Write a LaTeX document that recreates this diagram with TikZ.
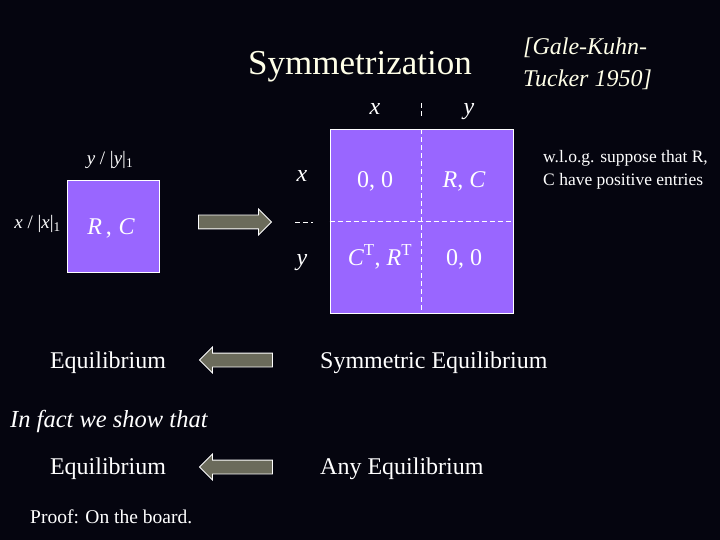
\documentclass[tikz,border=0pt]{standalone}
\usepackage{fontspec}
\setmainfont{Liberation Serif}
\usetikzlibrary{shapes.arrows,positioning}

\definecolor{slidebg}{HTML}{05050F}
\definecolor{gamefill}{HTML}{9966FF}
\definecolor{arrowfill}{HTML}{6B6B5B}
\definecolor{titlecol}{HTML}{FFFFE8}

\newcommand{\bigtxt}{\fontsize{24}{30}\selectfont}
\newcommand{\midtxt}{\fontsize{19}{22}\selectfont}

\begin{document}
\begin{tikzpicture}[
    x=1pt, y=-1pt,
    txt/.style={text=white, inner sep=0pt, font=\bigtxt},
    sidetxt/.style={text=white, inner sep=0pt, font=\midtxt},
    gamebox/.style={rectangle, draw=white, fill=gamefill, line width=0.8pt, inner sep=0pt},
    blockarrow/.style={single arrow, draw=white, fill=arrowfill, line width=0.8pt,
        inner sep=6.5pt, minimum height=73pt, single arrow head extend=6pt},
    divider/.style={draw=white, line width=0.8pt, dash pattern=on 5pt off 3pt}
]
\fill[slidebg] (0,0) rectangle (720,540);
\useasboundingbox (0,0) rectangle (720,540);

% title and citation
\node[txt, anchor=base, text=titlecol, font=\fontsize{35}{40}\selectfont] (title) at (360,75) {Symmetrization};
\node[txt, anchor=base west, text=titlecol, align=left, font=\fontsize{24}{32}\selectfont\itshape] (cite) at (523,87)
    {[Gale-Kuhn-\\Tucker 1950]};

% small game
\node[gamebox, minimum size=92pt] (small) at (113,226.5) {};
\node[txt, anchor=base] (rc) at (111,234) {\itshape R\,\upshape,\;\itshape C};
\node[sidetxt, anchor=base] (ynorm) at (110,165) {\itshape y\upshape~/~|\itshape y\upshape|\textsubscript{1}};
\node[sidetxt, anchor=base east] (xnorm) at (61,229) {\itshape x\upshape~/~|\itshape x\upshape|\textsubscript{1}};

\node[blockarrow] (toright) at (231.5,222) {};

% symmetric game
\node[gamebox, minimum width=183pt, minimum height=184pt] (game) at (421.5,221.5) {};
\draw[divider] (game.north) -- (game.south);
\draw[divider] (game.west) -- (game.east);
\coordinate (vtop) at (421.5,103);
\coordinate (vbot) at (421.5,116);
\coordinate (hleft) at (295,222);
\coordinate (hright) at (313,222);
\draw[divider] (vtop) -- (vbot);
\draw[divider] (hleft) -- (hright);

\node[txt, anchor=base] (colx) at (375,115) {\itshape x};
\node[txt, anchor=base] (coly) at (469,115) {\itshape y};
\node[txt, anchor=base] (rowx) at (302,182) {\itshape x};
\node[txt, anchor=base] (rowy) at (302,265) {\itshape y};

\node[txt, anchor=base] (c11) at (375,188) {0, 0};
\node[txt, anchor=base] (c12) at (464,188) {\itshape R\upshape, \itshape C};
\node[txt, anchor=base] (c21) at (380,265) {\itshape C\upshape\textsuperscript{T}, \itshape R\upshape\textsuperscript{T}};
\node[txt, anchor=base] (c22) at (464,265) {0, 0};

\node[text=white, inner sep=0pt, anchor=base west, align=left, font=\fontsize{17.5}{23}\selectfont] (wlog) at (543,186)
    {w.l.o.g. suppose that R,\\C have positive entries};

% equilibria
\node[txt, anchor=base] (eq1) at (108,368) {Equilibrium};
\node[blockarrow, shape border rotate=180] (back1) at (239.5,360) {};
\node[txt, anchor=base west] (symeq) at (320,368) {Symmetric Equilibrium};

\node[txt, anchor=base west, font=\fontsize{24.5}{30}\selectfont\itshape] (infact) at (10,427) {In fact we show that};

\node[txt, anchor=base] (eq2) at (108,474) {Equilibrium};
\node[blockarrow, shape border rotate=180] (back2) at (239.5,467) {};
\node[txt, anchor=base west] (anyeq) at (320,474) {Any Equilibrium};

\node[text=white, inner sep=0pt, anchor=base west, font=\fontsize{19.5}{24}\selectfont] (proof) at (30,523) {Proof: On the board.};
\end{tikzpicture}
\end{document}
